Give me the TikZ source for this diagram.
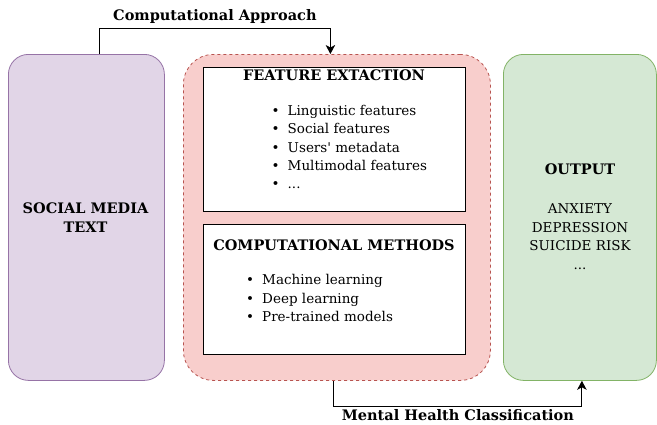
\documentclass[tikz,border=0pt]{standalone}
\usepackage{fontspec}
\setmainfont{DejaVu Serif}
\definecolor{mediafill}{HTML}{E1D5E7}
\definecolor{mediadraw}{HTML}{9673A6}
\definecolor{panelfill}{HTML}{F8CECC}
\definecolor{paneldraw}{HTML}{B85450}
\definecolor{outfill}{HTML}{D5E8D4}
\definecolor{outdraw}{HTML}{82B366}
\usetikzlibrary{arrows.meta,positioning}
\tikzset{
  basefont/.style={font=\fontsize{13.5}{18.5}\selectfont},
  sidebox/.style={rounded corners=20pt,line width=0.8pt,minimum width=156pt,minimum height=326pt,inner sep=0pt},
  innerbox/.style={draw=black,fill=white,line width=0.8pt,minimum width=262pt,inner sep=0pt},
  boxtitle/.style={font=\fontsize{14.5}{18.5}\selectfont\bfseries,inner sep=0pt,anchor=base},
  itemtext/.style={basefont,inner sep=0pt,anchor=base west},
  flowarrow/.style={-{Stealth[length=9pt,width=9.5pt,inset=2.5pt]},line width=0.9pt,black},
  flowlabel/.style={font=\fontsize{14.5}{18.5}\selectfont\bfseries}
}
\newcommand{\bitem}[1]{\makebox[16pt][l]{\textbullet}#1}
\newcommand{\moredots}{...}

\begin{document}
\begin{tikzpicture}[x=1pt,y=-1pt]
\useasboundingbox (0,0) rectangle (657,424);
% three columns
\node[sidebox,draw=mediadraw,fill=mediafill,anchor=north west] (media) at (8,54) {};
\node[sidebox,draw=paneldraw,fill=panelfill,dashed,rounded corners=30pt,minimum width=307pt,anchor=north west] (panel) at (183,54) {};
\node[sidebox,draw=outdraw,fill=outfill,minimum width=153pt,anchor=north west] (out) at (503,54) {};
% boxes inside the middle column
\node[innerbox,minimum height=144pt,anchor=north west] (feat) at (203,67) {};
\node[innerbox,minimum height=130pt,anchor=north west] (meth) at (203,224) {};

\node[boxtitle] (feattitle) at (334,80.5) {FEATURE EXTACTION};
\foreach \t [count=\i] in {Linguistic features,Social features,Users\textquotesingle\ metadata,Multimodal features,\moredots}
  \node[itemtext] (fitem\i) at (271.5,{115.5+18.3*(\i-1)}) {\bitem{\t}};

\node[boxtitle] (methtitle) at (334,250.5) {COMPUTATIONAL METHODS};
\foreach \t [count=\i] in {Machine learning,Deep learning,Pre-trained models}
  \node[itemtext] (mitem\i) at (246,{284.5+18.5*(\i-1)}) {\bitem{\t}};

% text of the outer columns (base is the last line)
\node[boxtitle,align=center,anchor=base] (mediatext) at (85.5,232) {SOCIAL MEDIA\\TEXT};
\node[boxtitle] (outtitle) at (580,174.5) {OUTPUT};
\node[basefont,align=center,inner sep=0pt,anchor=base] (outlist) at (580,269) {ANXIETY\\DEPRESSION\\SUICIDE RISK\\...};

% connectors
\draw[flowarrow] ([xshift=13pt]media.north) -- ++(0,-26)
  -| node[flowlabel,pos=0.25,above,inner sep=4pt] (toplabel) {Computational Approach} ([xshift=-6.5pt]panel.north);
\draw[flowarrow] ([xshift=-3pt]panel.south) -- ++(0,26)
  -| node[flowlabel,pos=0.25,below,inner sep=2pt] (botlabel) {Mental Health Classification} ([xshift=2pt]out.south);
\end{tikzpicture}
\end{document}
